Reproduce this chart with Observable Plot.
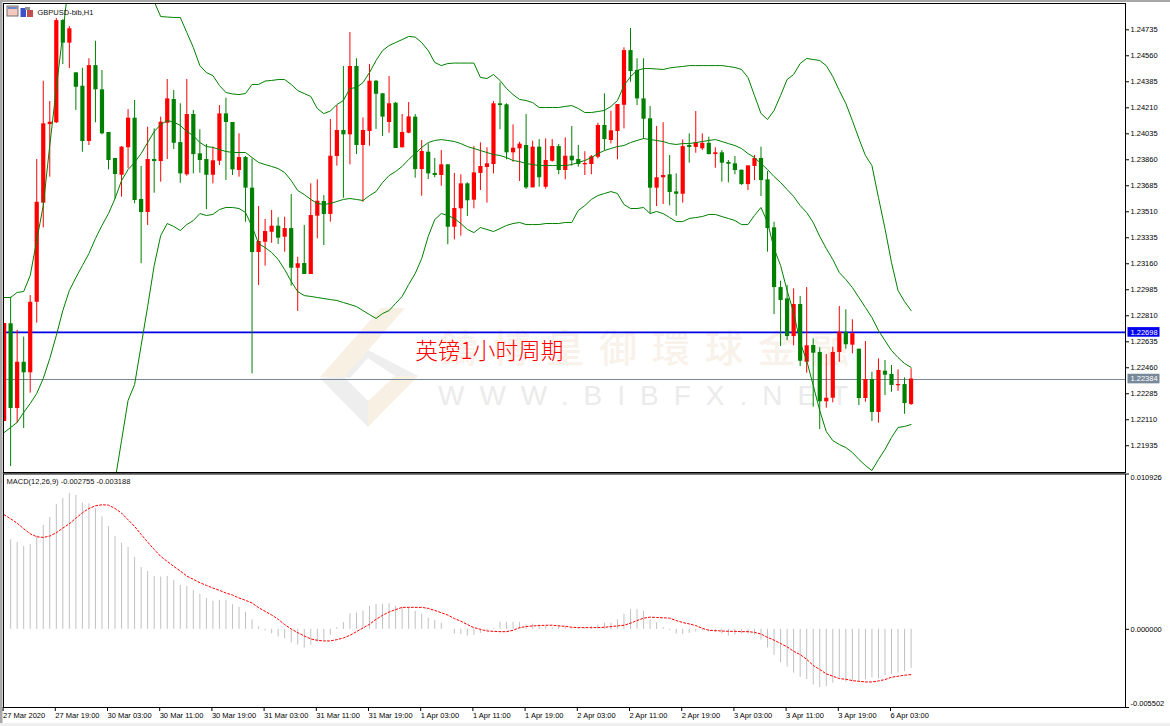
<!DOCTYPE html>
<html><head><meta charset="utf-8">
<script src="https://cdn.jsdelivr.net/npm/d3@7"></script>
<script src="https://cdn.jsdelivr.net/npm/@observablehq/plot@0.6"></script>
<style>
html,body{margin:0;padding:0;background:#fff;width:1170px;height:726px;overflow:hidden}
svg.layer,#chart svg{position:absolute;left:0}
</style></head><body>
<div id="chart"></div>
<script>
// prices in points (1e-5)
const openPts=[122098,122756,122186,122497,122426,122901,123568,124097,124109,124797,
124645,124445,124355,123983,124494,124331,124044,123869,123756,123941,
124140,123593,123505,123862,123848,124106,124266,123976,123759,124165,
123900,123862,123756,123850,124169,124111,123788,123875,123669,123236,
123305,123372,123413,123339,123397,123130,123162,123088,123480,123579,
123492,123882,124057,124028,124488,123956,124050,124389,124304,124111,
124241,123941,124039,124147,123794,123911,123768,123754,123826,123406,
123530,123698,123588,123768,123808,123828,124237,124230,123907,123934,
123956,123671,123945,123675,123850,123949,123788,123884,123862,123826,
123828,123877,124091,123990,124050,124227,124595,124461,124270,124136,
123669,123739,123759,123644,123628,123956,123943,123934,123971,123895,
123907,123842,123833,123790,123693,123815,123869,123725,123402,123000,
122924,122670,122886,122497,122610,122563,122231,122255,122563,122699,
122612,122585,122253,122381,122159,122437,122415,122339,122347,122213];
const highPts=[122758,122935,122711,122666,122946,123862,124389,124252,124811,124804,
124757,124447,124476,124540,124658,124461,124044,123869,123949,124198,
124259,123815,124079,124068,124147,124400,124326,124237,124400,124192,
124062,123963,123945,124225,124274,124111,124035,123882,123866,123545,
123458,123519,123469,123473,123626,123204,123418,123698,123725,123619,
124131,124225,124488,124717,124540,124142,124501,124393,124306,124420,
124245,124165,124245,124165,123990,123967,123869,123922,123828,123768,
123759,123705,123949,123974,123941,124252,124378,124237,124095,123978,
124165,123985,123996,124001,123996,123963,124008,124084,123956,123914,
123889,124106,124304,124187,124232,124614,124744,124540,124540,124219,
124084,124109,123889,123765,123994,124035,124185,124035,124012,123941,
123922,123855,123882,123790,123819,123889,123945,123781,123440,123043,
123014,122991,122940,123000,122655,122594,122549,122598,122872,122850,
122783,122585,122637,122430,122520,122509,122475,122446,122392,122453];
const lowPts=[122098,121795,122087,122051,122289,122760,123402,123743,124104,124501,
124474,124192,123911,123956,124109,124028,123792,123593,123608,123799,
123564,123160,123418,123635,123709,123862,123929,123702,123749,123765,
123770,123525,123698,123821,123720,123754,123743,123440,122419,123014,
123144,123298,123290,123238,123009,122839,123088,123088,123328,123283,
123440,123817,123601,123826,123895,123574,123951,124064,124017,124039,
123936,123939,124035,123736,123615,123727,123739,123682,123288,123321,
123346,123478,123530,123653,123568,123765,124062,123860,123844,123714,
123660,123671,123675,123662,123844,123759,123725,123817,123810,123754,
123759,123866,123922,123967,123860,124068,124382,124225,123996,123496,
123545,123559,123550,123480,123568,123837,123904,123922,123893,123803,
123709,123705,123759,123687,123653,123720,123613,123238,122818,122603,
122643,122608,122468,122423,122195,122044,122188,122224,122497,122585,
122554,122206,122228,122098,122087,122273,122295,122302,122147,122206];
const closePts=[122758,122186,122497,122426,122901,123574,124102,124113,124797,124645,
124742,124348,123983,124494,124331,124035,123855,123761,123945,124140,
123586,123505,123862,123848,124113,124270,123971,123765,124165,123895,
123855,123756,123853,124169,124111,123792,123875,123669,123236,123310,
123377,123413,123332,123397,123130,123160,123088,123485,123581,123492,
123884,124057,124028,124488,123956,124057,124389,124301,124147,124237,
123936,124044,124149,123794,123916,123765,123754,123826,123406,123532,
123698,123584,123772,123815,123833,124237,124225,123907,123938,123965,
123671,123945,123739,123855,123949,123788,123884,123853,123828,123835,
123880,124091,123996,124055,124232,124595,124454,124270,124133,123669,
123739,123754,123640,123628,123949,123943,123974,123971,123895,123907,
123837,123830,123788,123693,123819,123869,123720,123397,123000,122913,
122670,122886,122504,122608,122558,122231,122255,122563,122699,122615,
122689,122253,122381,122159,122442,122410,122341,122347,122219,122384];
const upperPts=[122933,122933,122967,122973,123081,123317,123552,123956,124340,124710,
125100,null,null,null,null,null,null,null,null,null,
null,null,125013,124925,124824,124821,124818,124818,124717,124616,
124494,124447,124427,124360,124313,124303,124299,124306,124367,124367,
124390,124394,124400,124400,124367,124326,124306,124286,124205,124171,
124188,124232,124259,124340,124346,124380,124447,124528,124595,124629,
124649,124669,124690,124686,124649,124595,124515,124494,124508,124511,
124511,124511,124511,124414,124407,124434,124394,124340,124299,124266,
124259,124245,124212,124212,124212,124212,124219,124225,124205,124178,
124178,124185,124192,124219,124259,124360,124420,124461,124474,124474,
124471,124468,124478,124484,124488,124494,124494,124494,124494,124494,
124494,124488,124481,124468,124414,124293,124171,124131,124192,124293,
124400,124434,124508,124542,124535,124528,124494,124420,124326,124239,
124124,124003,123889,123821,123606,123397,123168,122980,122906,122845];
const middlePts=[122024,122058,122092,122159,122219,122287,122388,122522,122677,122845,
122980,123067,123148,123229,123330,123418,123498,123599,123720,123794,
123842,123902,123976,124050,124097,124124,124114,124091,124050,124023,
123976,123949,123943,123929,123916,123909,123909,123909,123875,123842,
123828,123815,123801,123774,123720,123653,123626,123593,123566,123559,
123566,123579,123593,123599,123593,123586,123619,123646,123707,123754,
123781,123815,123862,123902,123943,123976,123990,123996,123990,123983,
123969,123949,123936,123922,123909,123895,123889,123875,123855,123848,
123835,123828,123821,123821,123821,123821,123821,123828,123842,123855,
123875,123902,123922,123936,123949,123956,123976,123990,124003,123996,
123990,123983,123969,123963,123969,123969,123976,123983,123990,123996,
123983,123969,123956,123936,123902,123875,123835,123794,123747,123707,
123660,123613,123552,123505,123438,123344,123263,123189,123101,123054,
123000,122933,122866,122798,122711,122643,122576,122529,122489,122462];
const lowerPts=[null,null,null,null,null,null,null,null,null,null,
null,null,null,null,null,null,null,121701,121970,122240,
122347,122610,122872,123148,123350,123431,123411,123384,123424,123451,
123498,123485,123492,123525,123539,123539,123532,123505,123411,123296,
123269,123236,123189,123121,123041,122973,122946,122940,122933,122926,
122919,122913,122899,122886,122872,122845,122818,122792,122825,122845,
122893,122940,123020,123094,123195,123344,123458,123498,123485,123465,
123431,123391,123370,123404,123391,123377,123397,123418,123431,123438,
123424,123424,123424,123431,123431,123431,123438,123438,123519,123552,
123593,123619,123633,123646,123633,123559,123532,123532,123539,123498,
123512,123498,123471,123444,123444,123465,123471,123478,123492,123492,
123478,123465,123451,123424,123424,123485,123539,123438,123263,123148,
122980,122832,122630,122509,122341,122172,122031,121970,121943,121923,
121890,121843,121802,121768,121843,121910,121991,122058,122065,122078];
// MACD in 1e-6
const macdHist=[null,6300,6113,5832,5972,6558,7307,7869,8783,9204,
9555,9415,8876,8829,8478,7916,7237,6534,6066,5761,
5059,4356,4075,3724,3677,3724,3443,3091,3021,2740,
2459,2178,1967,2014,2014,1733,1546,1194,656,164,
-117,-328,-539,-679,-960,-1101,-1312,-1124,-890,-773,
-422,117,468,1101,1148,1288,1616,1757,1757,1803,
1616,1544,1544,1259,1069,784,618,428,0,-333,
-380,-475,-428,-285,-95,48,499,499,499,499,
309,356,309,190,119,285,190,71,71,71,
190,309,428,428,665,1069,1378,1378,1259,665,
475,119,-95,-333,-380,-285,-190,-95,-166,-238,
-333,-475,-404,-333,-333,-404,-760,-1306,-1829,-2351,
-2660,-3088,-3373,-3539,-3919,-4085,-4038,-3800,-3420,-3729,
-3658,-3658,-3563,-3420,-3491,-3254,-3183,-3088,-2969,-2755];
const macdSignal=[8056,7775,7471,7073,6722,6511,6464,6558,6792,7120,
7424,7822,8197,8501,8689,8759,8736,8501,8174,7705,
7237,6675,6136,5621,5129,4778,4426,4099,3747,3513,
3279,3091,2904,2740,2553,2412,2201,2038,1850,1522,
1265,1007,703,328,23,-234,-468,-679,-773,-820,
-820,-726,-609,-422,-164,94,351,703,984,1218,
1382,1544,1544,1544,1544,1473,1330,1164,998,760,
570,333,119,0,-119,-143,-166,-166,-71,119,
190,238,261,285,285,238,214,143,119,119,
119,119,143,190,238,285,428,618,784,855,
831,808,784,618,475,380,261,71,-71,-95,
-119,-143,-143,-166,-166,-214,-333,-570,-760,-998,
-1235,-1544,-1781,-2114,-2541,-2826,-3135,-3301,-3468,-3515,
-3610,-3658,-3705,-3705,-3634,-3539,-3373,-3301,-3230,-3188];
const priceTicks=[1.24735,1.2456,1.24385,1.2421,1.24035,1.2386,1.23685,1.2351,1.23335,1.2316,1.22985,1.2281,1.22635,1.2246,1.22285,1.2211,1.21935];
const macdTicks=[0.010926,0,-0.005502];
const timeTickBars=[0,8,16,24,32,40,48,56,64,72,80,88,96,104,112,120,128,136];
const timeLabels=["27 Mar 2020","27 Mar 19:00","30 Mar 03:00","30 Mar 11:00","30 Mar 19:00","31 Mar 03:00","31 Mar 11:00","31 Mar 19:00","1 Apr 03:00","1 Apr 11:00","1 Apr 19:00","2 Apr 03:00","2 Apr 11:00","2 Apr 19:00","3 Apr 03:00","3 Apr 11:00","3 Apr 19:00","6 Apr 03:00"];
const levelBlue=1.22698, levelGrey=1.22384;
const symbolTitle="GBPUSD-bib,H1", macdTitle="MACD(12,26,9) -0.002755 -0.003188", note="英镑1小时周期";
const wmCn="鑄博皇御環球金融", wmEn="WWW.BIBFX.NET";

const RED="#ff0000",GREEN="#008000",FONT="'Liberation Sans',Arial,sans-serif",FS=7.5;
const toP=v=>v==null?NaN:v/1e5, toM=v=>v==null?NaN:v/1e6;
const idx=d3.range(openPts.length);
const bars=idx.map(i=>({i,open:toP(openPts[i]),high:toP(highPts[i]),low:toP(lowPts[i]),close:toP(closePts[i]),
  up:toP(upperPts[i]),mid:toP(middlePts[i]),lo:toP(lowerPts[i]),hist:toM(macdHist[i]),sig:toM(macdSignal[i]),
  col:closePts[i]>=openPts[i]?RED:GREEN}));
const xDomain=[-0.092,171.86];

// decorative backdrop: window chrome and watermark
const root=document.getElementById("chart");
const deco=d3.select(root).append("svg").attr("class","layer").attr("width",1170).attr("height",726).style("top","0px");
deco.append("rect").attr("x",0).attr("y",0).attr("width",1170).attr("height",2).attr("fill","#a8a8a8");
deco.append("rect").attr("x",0).attr("y",0).attr("width",2.5).attr("height",724).attr("fill","#a8a8a8");
deco.append("rect").attr("x",0).attr("y",472.5).attr("width",1125).attr("height",1.5).attr("fill","#a8a8a8");
deco.append("rect").attr("x",0).attr("y",723).attr("width",1170).attr("height",3).attr("fill","#efefef");
[["381,308 405,308 344,378 320,377","#f8f1e3"],["418,376 368,427 368,401 395,376","#f8f1e3"],
 ["320,378 344,377 368,401 368,427","#eeeeee"],["344,377 368,350 418,376 395,376 368,358 350,378","#eeeeee"]]
 .forEach(([p,f])=>deco.append("polygon").attr("points",p).attr("fill",f));
Array.from(wmCn).forEach((c,k)=>deco.append("text").attr("x",440+53*k).attr("y",362).text(c)
  .attr("font-family","'Noto Sans CJK TC'").attr("font-size",38).attr("font-weight",500).attr("fill","#f8f2ea"));
deco.append("text").attr("x",438).attr("y",405).text(wmEn).attr("font-family",FONT).attr("font-size",28)
  .attr("letter-spacing",15).attr("fill","#ebebeb");
// toolbar icons
const ic=deco.append("g");
ic.append("rect").attr("x",7).attr("y",6).attr("width",11).attr("height",10).attr("fill","#f4c9c0").attr("stroke","#707070").attr("stroke-width",1);
ic.append("rect").attr("x",8).attr("y",7).attr("width",9).attr("height",2).attr("fill","#6f86c8");
ic.append("rect").attr("x",20.5).attr("y",8).attr("width",5.5).attr("height",9).attr("fill","#3a50c8");
ic.append("rect").attr("x",27).attr("y",10).attr("width",6).attr("height",7).attr("fill","#c05050");
ic.append("rect").attr("x",25).attr("y",7).attr("width",5).attr("height",3).attr("fill","#909090");

function priceTag(price,fill){
  return (index,scales)=>{
    const y=scales.y(price);
    const g=d3.create("svg:g");
    g.append("rect").attr("x",1127.5).attr("y",y-4.8).attr("width",32).attr("height",9.6).attr("fill",fill);
    g.append("text").attr("x",1130.5).attr("y",y+2.8).attr("text-anchor","start").attr("fill","#fff").attr("font-size",FS).text(price.toFixed(5));
    return g.node();
  };
}
const common={width:1170,marginLeft:3,marginRight:45,
  x:{domain:xDomain,axis:null},
  style:{background:"transparent",fontFamily:FONT,fontSize:FS+"px",color:"#000",overflow:"visible"}};

const pricePane=Plot.plot({...common,height:472,marginTop:3,marginBottom:0,
  y:{domain:[1.21755,1.24912],axis:null},
  marks:[
    Plot.axisY(priceTicks,{anchor:"right",tickSize:3,tickPadding:2,tickFormat:d3.format(".5f"),label:null,fontSize:FS}),
    Plot.ruleY([levelBlue],{stroke:"#0000e6",strokeWidth:1.6}),
    Plot.ruleY([levelGrey],{stroke:"#778899",strokeWidth:1,shapeRendering:"crispEdges"}),
    Plot.ruleX(bars,{x:"i",y1:"low",y2:"high",stroke:"col",strokeWidth:1,clip:true}),
    Plot.ruleX(bars,{x:"i",y1:"open",y2:"close",stroke:"col",strokeWidth:4.2,clip:true}),
    Plot.line(bars,{x:"i",y:"up",stroke:GREEN,strokeWidth:1,curve:"linear",clip:true}),
    Plot.line(bars,{x:"i",y:"mid",stroke:GREEN,strokeWidth:1,curve:"linear",clip:true}),
    Plot.line(bars,{x:"i",y:"lo",stroke:GREEN,strokeWidth:1,curve:"linear",clip:true}),
    Plot.text([note],{x:[63],y:[1.22566],text:d=>d,fill:RED,fontSize:22.7,fontFamily:"'Noto Sans CJK SC'",fontWeight:300,textAnchor:"start"}),
    Plot.text([symbolTitle],{frameAnchor:"top-left",dx:34,dy:6,text:d=>d,fontSize:FS,fill:"#111",textAnchor:"start"}),
    Plot.frame({stroke:"#000"}),
    priceTag(levelBlue,"#0000f0"),
    priceTag(levelGrey,"#778899")
  ]});
pricePane.style.top="0px";
root.appendChild(pricePane);

const macdPane=Plot.plot({...common,height:254,marginTop:1.5,marginBottom:19,
  y:{domain:[-0.005502,0.010926],axis:null},
  marks:[
    Plot.ruleX(bars.filter(d=>!isNaN(d.hist)),{x:"i",y1:0,y2:"hist",stroke:"#c0c0c0",strokeWidth:1,clip:true}),
    Plot.line(bars,{x:"i",y:"sig",stroke:RED,strokeWidth:1,strokeDasharray:"2,2",clip:true}),
    Plot.axisY(macdTicks,{anchor:"right",tickSize:3,text:null,label:null}),
    Plot.text([macdTicks[0]],{x:xDomain[1],y:d=>d,text:d=>d.toFixed(6),dx:5,dy:3.5,textAnchor:"start",fontSize:FS}),
    Plot.text([macdTicks[1]],{x:xDomain[1],y:d=>d,text:d=>d.toFixed(6),dx:5,textAnchor:"start",fontSize:FS}),
    Plot.text([macdTicks[2]],{x:xDomain[1],y:d=>d,text:d=>d.toFixed(6),dx:5,dy:-4,textAnchor:"start",fontSize:FS}),
    Plot.axisX(timeTickBars,{anchor:"bottom",tickSize:4,tickPadding:1,dx:-1,label:null,textAnchor:"start",
      tickFormat:(d,k)=>timeLabels[timeTickBars.indexOf(d)],fontSize:FS}),
    Plot.text([macdTitle],{frameAnchor:"top-left",dx:3,dy:4.5,text:d=>d,fontSize:FS,fill:"#111",textAnchor:"start"}),
    Plot.frame({stroke:"#000"})
  ]});
macdPane.style.top="472px";
root.appendChild(macdPane);
</script>
</body></html>
